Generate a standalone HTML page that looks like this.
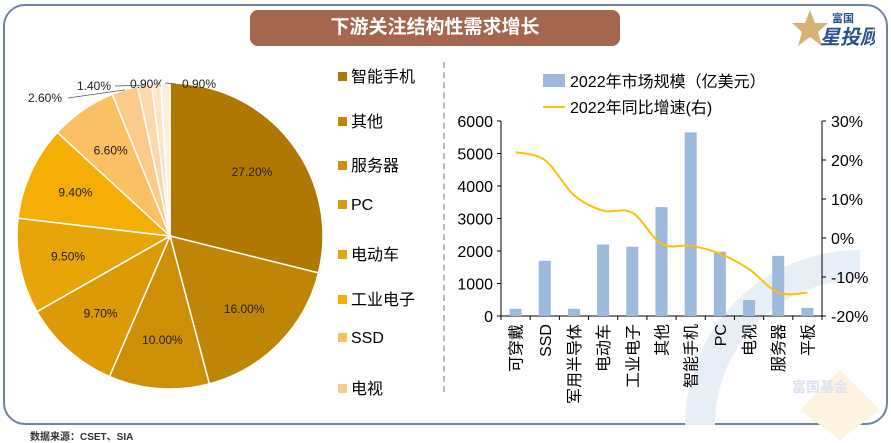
<!DOCTYPE html>
<html><head><meta charset="utf-8">
<style>
body{margin:0;width:891px;height:441px;background:#fff;overflow:hidden;font-family:"Liberation Sans","Noto Sans CJK SC",sans-serif;position:relative}
#frame{position:absolute;left:3px;top:4px;width:881px;height:417px;border:2px solid #6F84A3;border-radius:22px;box-sizing:content-box}
#title{position:absolute;top:10px;height:36px;background:#A4664F;border-radius:8px;color:#fff;font-weight:bold;font-size:19px;line-height:36px;text-align:center}
#logo{position:absolute;left:790px;top:8px;width:85px;height:40px}
#src{position:absolute;left:30px;top:428px;font-size:10px;font-weight:bold;color:#333}
.leg{position:absolute;left:338px;font-size:16px;color:#000}
.leg i{display:inline-block;width:9px;height:9px;margin-right:4px;vertical-align:1px}
#sep{position:absolute;left:443px;top:62px;height:330px;border-left:2px dashed #bbb}
</style></head><body>
<div id="frame"></div>
<div id="title" style="left:250px;width:370px">下游关注结构性需求增长</div>
<svg id="logo" viewBox="0 0 85 40"><polygon points="20,2 25,15 38,15 28,24 32,38 20,29 8,38 12,24 2,15 15,15" fill="#D7B277"/><text x="42" y="14" font-size="11" font-weight="bold" fill="#2E4F8F">富国</text><text x="30" y="36" font-size="20" font-weight="bold" fill="#2E4F8F" font-style="italic">星投顾</text></svg>
<svg width="891" height="441" style="position:absolute;left:0;top:0"><path d="M700,425 A160,160 0 0 1 860,265" stroke="#E8EEF6" stroke-width="30" fill="none"/><polygon points="840,370 800,410 840,440 880,410" fill="#FDF3E0"/><text x="792" y="392" font-size="14" font-weight="bold" fill="#DDE3EE">富国基金</text></svg>
<div id="sep"></div>
<svg id="pie" width="440" height="420" style="position:absolute;left:0;top:0"></svg>
<svg id="bar" width="891" height="441" style="position:absolute;left:0;top:0"></svg>
<div id="src">数据来源：CSET、SIA</div>
<script>
const pieValues=[27.2,16.0,10.0,9.7,9.5,9.4,6.6,2.6,1.4,0.9,0.9];
const pieLabels=["27.20%","16.00%","10.00%","9.70%","9.50%","9.40%","6.60%","2.60%","1.40%","0.90%","0.90%"];
const pieColors=["#B07800","#BF8506","#CC8F05","#DB9A06","#E7A507","#F5AE06","#FBBF64","#FBCB8C","#FCD9AC","#FDE5C8","#FEEEDC"];
const legendNames=["智能手机","其他","服务器","PC","电动车","工业电子","SSD","电视"];
const cats=["可穿戴","SSD","军用半导体","电动车","工业电子","其他","智能手机","PC","电视","服务器","平板"];
const sizes=[220,1700,220,2200,2130,3350,5650,1980,490,1850,250];
const growth=[22,20,11,7,6.5,-1.5,-2,-4,-8,-14,-14];
const leftTicks=[0,1000,2000,3000,4000,5000,6000];
const rightTicks=[-20,-10,0,10,20,30];
const NS="http://www.w3.org/2000/svg";
function mk(p,t,a){const e=document.createElementNS(NS,t);for(const k in a)e.setAttribute(k,a[k]);p.appendChild(e);return e;}
const pie=document.getElementById('pie');
const cx=170,cy=236,r=153,tot=pieValues.reduce((a,b)=>a+b,0);
let ang=-Math.PI/2;
pieValues.forEach((v,i)=>{
 const a2=ang+v/tot*2*Math.PI;
 const x1=cx+r*Math.cos(ang),y1=cy+r*Math.sin(ang),x2=cx+r*Math.cos(a2),y2=cy+r*Math.sin(a2);
 const p=mk(pie,'path',{d:`M${cx},${cy}L${x1},${y1}A${r},${r} 0 ${a2-ang>Math.PI?1:0} 1 ${x2},${y2}Z`,fill:pieColors[i],stroke:'#fff','stroke-width':1.5});
 
 
 const m=(ang+a2)/2;
 let t;
 if(i<7){const rr=r*0.68;t=mk(pie,'text',{x:cx+rr*Math.cos(m),y:cy+rr*Math.sin(m)+4,'font-size':12,'text-anchor':'middle',fill:'#222'});}
 else{
  const lx=[28,77,130,178][i-7],ly=[102,90,88,88][i-7],ex=[68,115,167,176][i-7];
  mk(pie,'line',{x1:cx+r*Math.cos(m),y1:cy+r*Math.sin(m),x2:ex,y2:ly-4,stroke:'#555','stroke-width':0.8});
  t=mk(pie,'text',{x:i==10?lx+4:lx,y:ly,'font-size':12,fill:'#222'});
 }
 t.textContent=pieLabels[i];
 
 
 ang=a2;
});
legendNames.forEach((n,i)=>{
 const d=document.createElement('div');d.className='leg';d.style.top=(63+i*44.5)+'px';
 d.innerHTML='<i style="background:'+pieColors[i]+'"></i>'+n;
 
 
 document.body.appendChild(d);
});
const bar=document.getElementById('bar');
const x0=501,x1=822,y0=316,yT=121,n=cats.length,bw=(x1-x0)/n;
const yL=v=>y0-(v/6000)*(y0-yT);
const yR=v=>y0-((v+20)/50)*(y0-yT);
const xC=i=>x0+bw*(i+0.5);
mk(bar,'line',{x1:x0,y1:yT,x2:x0,y2:y0,stroke:'#000'});
mk(bar,'line',{x1:x1,y1:yT,x2:x1,y2:y0,stroke:'#000'});
mk(bar,'line',{x1:x0-4,y1:y0,x2:x1+4,y2:y0,stroke:'#000'});
leftTicks.forEach(v=>{mk(bar,'line',{x1:x0-4,y1:yL(v),x2:x0,y2:yL(v),stroke:'#000'});const t=mk(bar,'text',{x:x0-8,y:yL(v)+6,'font-size':16,'text-anchor':'end'});t.textContent=v;});
rightTicks.forEach(v=>{mk(bar,'line',{x1:x1,y1:yR(v),x2:x1+4,y2:yR(v),stroke:'#000'});const t=mk(bar,'text',{x:x1+9,y:yR(v)+6,'font-size':16});t.textContent=v+'%';});
for(let i=0;i<=n;i++)mk(bar,'line',{x1:x0+bw*i,y1:y0,x2:x0+bw*i,y2:y0+4,stroke:'#000'});
sizes.forEach((v,i)=>{const b=mk(bar,'rect',{x:xC(i)-6,y:yL(v),width:12,height:y0-yL(v),fill:'#9DB9DC'});});
cats.forEach((c,i)=>{const t=mk(bar,'text',{x:0,y:0,'font-size':16,'text-anchor':'end',transform:`translate(${xC(i)+6},324) rotate(-90)`});t.textContent=c;});
let d='';const pts=growth.map((g,i)=>[xC(i),yR(g)]);
pts.forEach((p,i)=>{if(i==0){d='M'+p;return;}const a=pts[i-1],b=pts[i-2]||a,c=pts[i+1]||p;
 const c1=[a[0]+(p[0]-b[0])/6,a[1]+(p[1]-b[1])/6],c2=[p[0]-(c[0]-a[0])/6,p[1]-(c[1]-a[1])/6];d+=`C${c1} ${c2} ${p}`;});
const ln=mk(bar,'path',{d:d,fill:'none',stroke:'#FFC000','stroke-width':2});


mk(bar,'rect',{x:543,y:74,width:22,height:13,fill:'#9DB9DC'});
const l1=mk(bar,'text',{x:570,y:87,'font-size':16});l1.textContent='2022年市场规模（亿美元）';

mk(bar,'line',{x1:543,y1:107,x2:565,y2:107,stroke:'#FFC000','stroke-width':2});
const l2=mk(bar,'text',{x:570,y:113,'font-size':16});l2.textContent='2022年同比增速(右)';

</script>
</body></html>
